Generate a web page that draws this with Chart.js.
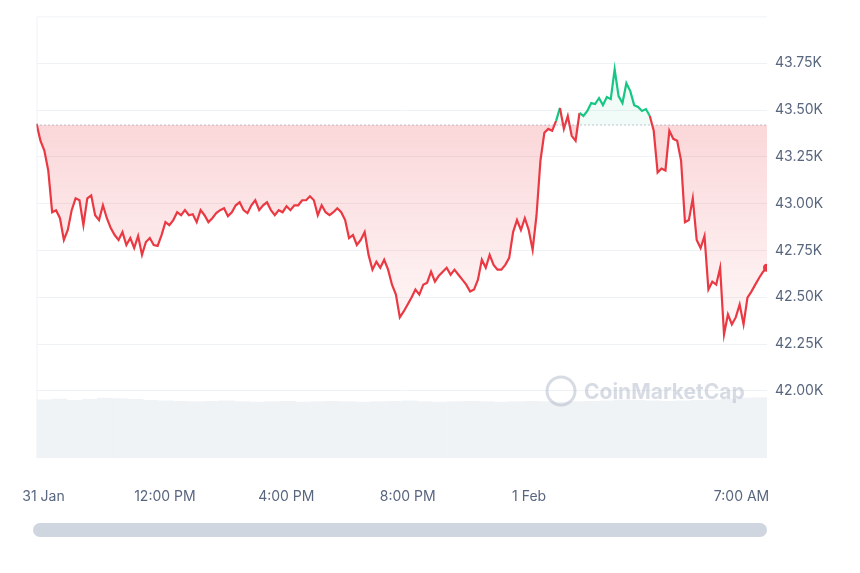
<!DOCTYPE html>
<html>
<head>
<meta charset="utf-8">
<script src="https://cdn.jsdelivr.net/npm/chart.js@4.4.0/dist/chart.umd.min.js"></script>
<style>
  html, body { margin: 0; padding: 0; background: #fff; }
  #wrap { position: relative; width: 860px; height: 573px; }
  #scroll { position: absolute; left: 33px; top: 523px; width: 734px; height: 14px; border-radius: 7px; background: #cfd6e0; }
</style>
</head>
<body>
<div id="wrap">
  <canvas id="c" width="860" height="573"></canvas>
  <div id="scroll"></div>
</div>
<script>
// price series, USD (~every 8 minutes)
const prices = [
  43426, 43336, 43283, 43177, 42954, 42965, 42922, 42806, 42859, 42965, 43028, 43018, 42885, 43028, 43044, 42938,
  42912, 42991, 42922, 42869, 42832, 42806, 42848, 42779, 42816, 42763, 42827, 42726, 42795, 42816, 42779, 42774,
  42832, 42901, 42885, 42912, 42954, 42938, 42965, 42938, 42943, 42901, 42965, 42938, 42901, 42922, 42949, 42965,
  42975, 42933, 42954, 42991, 43007, 42965, 42949, 42991, 43018, 42965, 42991, 43007, 42965, 42938, 42965, 42954,
  42986, 42965, 42991, 42991, 43018, 43018, 43039, 43018, 42938, 42991, 42954, 42938, 42954, 42975, 42954, 42912,
  42816, 42832, 42779, 42806, 42848, 42726, 42647, 42689, 42657, 42700, 42647, 42567, 42514, 42392, 42424, 42461,
  42498, 42541, 42514, 42567, 42578, 42636, 42583, 42615, 42636, 42657, 42620, 42647, 42620, 42594, 42567, 42530,
  42541, 42594, 42700, 42657, 42726, 42673, 42647, 42647, 42673, 42710, 42848, 42912, 42859, 42922, 42859, 42753,
  42938, 43230, 43378, 43399, 43389, 43442, 43511, 43399, 43468, 43362, 43336, 43484, 43468, 43495, 43537, 43532,
  43564, 43526, 43569, 43558, 43717, 43574, 43537, 43643, 43601, 43526, 43516, 43495, 43505, 43468, 43389, 43166,
  43187, 43177, 43389, 43346, 43336, 43230, 42901, 42912, 43028, 42806, 42763, 42827, 42541, 42583, 42567, 42657,
  42302, 42408, 42355, 42392, 42461, 42355, 42498, 42530, 42567, 42604, 42636, 42657
];
// hours after 31 Jan 08:00 for first / last sample
const startHour = -0.23;
const endHour = 23.84;
const openPrice = 43420;

// volume (relative units)
const volumes = [
  13.2, 13.4, 13.1, 13.3, 13.6, 13.5, 13.3, 13.1, 13.0, 12.9, 12.8, 12.9, 13.0, 12.8, 12.7, 12.8,
  12.9, 12.7, 12.8, 12.9, 12.8, 12.7, 12.8, 12.9, 13.0, 12.8, 12.7, 12.8, 12.9, 12.8, 12.7, 12.8,
  12.9, 12.8, 12.7, 12.8, 12.9, 13.0, 13.2, 13.1, 13.0, 12.9, 13.0, 13.1, 13.2, 13.4, 13.6, 13.7
];

const xTicks = [0, 4, 8, 12, 16, 23];
const xTickLabels = { 0: "31 Jan", 4: "12:00 PM", 8: "4:00 PM", 12: "8:00 PM", 16: "1 Feb", 23: "7:00 AM" };
const yTicks = [42000, 42250, 42500, 42750, 43000, 43250, 43500, 43750];

const RED = "#ea3943", GREEN = "#16c784";
const stepP = (endHour - startHour) / (prices.length - 1);
const priceData = prices.map((v, i) => ({ x: startHour + i * stepP, y: v }));
const stepV = (endHour - startHour) / volumes.length;
const volData = volumes.map((v, i) => ({ x: startHour + (i + 0.5) * stepV, y: v }));

const extras = {
  id: "extras",
  beforeDatasetsDraw(chart) {
    const { ctx, chartArea: a } = chart;
    ctx.save();
    ctx.strokeStyle = "#eff2f5";
    ctx.lineWidth = 1;
    ctx.beginPath();
    ctx.moveTo(a.left + 0.5, a.bottom);
    ctx.lineTo(a.left + 0.5, a.top + 0.5);
    ctx.lineTo(a.right, a.top + 0.5);
    ctx.stroke();
    ctx.restore();
  },
  afterDatasetsDraw(chart) {
    const { ctx, chartArea: a, scales } = chart;
    ctx.save();
    // watermark
    ctx.globalAlpha = 0.45;
    ctx.strokeStyle = "#a6b0c3";
    ctx.lineWidth = 3;
    ctx.beginPath();
    ctx.arc(561, 391, 14, 0, Math.PI * 2);
    ctx.stroke();
    ctx.fillStyle = "#a6b0c3";
    ctx.font = "bold 21px 'Inter', sans-serif";
    ctx.textBaseline = "middle";
    ctx.fillText("CoinMarketCap", 584, 393);
    ctx.restore();

    const y = scales.y.getPixelForValue(openPrice);
    ctx.save();
    ctx.strokeStyle = "#808a9d";
    ctx.lineWidth = 1;
    ctx.setLineDash([1, 3]);
    ctx.beginPath();
    ctx.moveTo(a.left, y);
    ctx.lineTo(a.right, y);
    ctx.stroke();
    ctx.restore();
  }
};

const ctx = document.getElementById("c").getContext("2d");
new Chart(ctx, {
  data: {
    datasets: [
      {
        type: "line",
        data: priceData,
        yAxisID: "y",
        borderWidth: 2.2,
        borderColor: RED,
        tension: 0,
        pointRadius: c => (c.dataIndex === prices.length - 1 ? 4 : 0),
        pointBackgroundColor: RED,
        pointBorderWidth: 0,
        segment: {
          borderColor: c => (c.p0.parsed.y >= openPrice && c.p1.parsed.y >= openPrice ? GREEN : RED)
        },
        fill: {
          target: { value: openPrice },
          above: "rgba(22,199,132,0.06)",
          below: c => {
            const ch = c.chart, a = ch.chartArea;
            if (!a) return "rgba(234,57,67,0.1)";
            const top = ch.scales.y.getPixelForValue(openPrice);
            const g = ch.ctx.createLinearGradient(0, top, 0, a.bottom - 100);
            g.addColorStop(0, "rgba(234,57,67,0.2)");
            g.addColorStop(1, "rgba(234,57,67,0.02)");
            return g;
          }
        },
        order: 1
      },
      {
        type: "bar",
        data: volData,
        yAxisID: "y2",
        backgroundColor: "#f0f3f6",
        barPercentage: 1,
        categoryPercentage: 1,
        order: 2
      }
    ]
  },
  options: {
    responsive: false,
    animation: false,
    layout: { padding: { left: 33, top: 14, bottom: 46, right: 0 } },
    plugins: { legend: { display: false }, tooltip: { enabled: false } },
    scales: {
      x: {
        type: "linear",
        offset: false,
        min: startHour,
        max: endHour,
        afterBuildTicks: s => { s.ticks = xTicks.map(v => ({ value: v })); },
        ticks: {
          callback: v => xTickLabels[v],
          color: "#58667e",
          font: { size: 14, family: "Inter" },
          maxRotation: 0,
          padding: 22
        },
        grid: { display: false, offset: false },
        border: { display: false }
      },
      y: {
        position: "right",
        min: 41640,
        max: 44000,
        afterBuildTicks: s => { s.ticks = yTicks.map(v => ({ value: v })); },
        afterFit: s => { s.width = 93; },
        ticks: {
          callback: v => (v / 1000).toFixed(2) + "K",
          color: "#58667e",
          font: { size: 14, family: "Inter" },
          padding: 8
        },
        grid: { color: "#eff2f5", drawTicks: false },
        border: { display: false }
      },
      y2: {
        display: false,
        min: 0,
        max: 100
      }
    }
  },
  plugins: [extras]
});
</script>
</body>
</html>
